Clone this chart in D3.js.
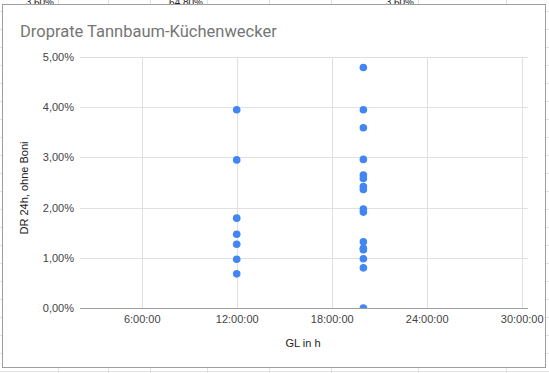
<!doctype html>
<html>
  <head>
    <meta charset="utf-8">
    <script src="https://cdn.jsdelivr.net/npm/d3@7"></script>
    <style>
      body { margin: 0; background: #fff; }
      .grid line { stroke: #e0e0e0; shape-rendering: crispEdges; }
      .grid path { stroke-width: 0; }
      .axis path, .axis line { display: none; }
      .axis text { font-family: "Liberation Sans", Arial, sans-serif; font-size: 11px; fill: #444; }
    </style>
  </head>
  <body>
    <script>
    // data
    var hours12 = [12, 12, 12, 12, 12, 12, 12];
    var drop12 = [3.95, 2.95, 1.79, 1.47, 1.27, 0.97, 0.68];
    var hours20 = [20, 20, 20, 20, 20, 20, 20, 20, 20, 20, 20, 20, 20, 20, 20, 20];
    var drop20 = [4.79, 3.95, 3.59, 2.96, 2.65, 2.58, 2.42, 2.36, 1.97, 1.91, 1.32, 1.19, 1.16, 0.98, 0.80, 0.0];
    var xTicks = [6, 12, 18, 24, 30];
    var xTickLabels = ['6:00:00', '12:00:00', '18:00:00', '24:00:00', '30:00:00'];
    var yTicks = [0, 1, 2, 3, 4, 5];
    var yTickLabels = ['0,00%', '1,00%', '2,00%', '3,00%', '4,00%', '5,00%'];
    var cellTexts = ['3,60%', '64,80%', '3,60%'];

    var width = 549;
    var height = 373;

    var svg = d3.select('body')
              .append('svg')
              .attr('width', width)
              .attr('height', height);

    //Spreadsheet behind the chart (its top row of cells peeks out above)
    var colLines = [58, 108, 150, 207, 269, 331, 418, 506];
    var cellRight = [54, 203, 414];
    var bg = svg.append('g');
    colLines.forEach(function(x) {
      bg.append('line')
        .attr('x1', x + 0.5).attr('x2', x + 0.5)
        .attr('y1', 0).attr('y2', height)
        .attr('stroke', '#e2e2e2');
    });
    for (var ry = 371; ry > 0; ry -= 18) {
      bg.append('line')
        .attr('x1', 0).attr('x2', width)
        .attr('y1', ry + 0.5).attr('y2', ry + 0.5)
        .attr('stroke', '#e2e2e2');
    }
    cellTexts.forEach(function(t, i) {
      bg.append('text')
        .attr('x', cellRight[i])
        .attr('y', 6)
        .attr('text-anchor', 'end')
        .attr('font-family', '"Liberation Sans", Arial, sans-serif')
        .attr('font-size', '10px')
        .attr('fill', '#222')
        .text(t);
    });

    //Chart box
    svg.append('rect')
      .attr('x', 2.5)
      .attr('y', 4.5)
      .attr('width', 543)
      .attr('height', 363)
      .attr('fill', '#fff')
      .attr('stroke', '#9e9e9e');

    var margin = { left: 80, right: 528, top: 57, bottom: 308 };

    var x = d3.scaleLinear()
              .domain([2.1, 30.4])
              .range([margin.left, margin.right]);

    var y = d3.scaleLinear()
              .domain([0, 5])
              .range([margin.bottom, margin.top]);

    //Gridlines
    svg.append('g')
      .attr('class', 'grid')
      .attr('transform', 'translate(' + margin.left + ',0)')
      .call(d3.axisLeft(y).tickValues(yTicks)
        .tickSize(-(margin.right - margin.left)).tickFormat(''));

    svg.append('g')
      .attr('class', 'grid')
      .attr('transform', 'translate(0,' + margin.bottom + ')')
      .call(d3.axisBottom(x).tickValues(xTicks)
        .tickSize(-(margin.bottom - margin.top)).tickFormat(''));

    //Points
    svg.append('clipPath')
      .attr('id', 'plot')
      .append('rect')
      .attr('x', margin.left)
      .attr('y', margin.top - 10)
      .attr('width', margin.right - margin.left)
      .attr('height', margin.bottom - margin.top + 10);

    var points = hours12.map(function(h, i) { return [h, drop12[i]]; })
      .concat(hours20.map(function(h, i) { return [h, drop20[i]]; }));

    svg.append('g')
      .attr('clip-path', 'url(#plot)')
      .selectAll('circle')
      .data(points)
      .enter()
      .append('circle')
      .attr('cx', function(d) { return x(d[0]); })
      .attr('cy', function(d) { return y(d[1]); })
      .attr('r', 3.8)
      .attr('fill', '#4285f4');

    //Zero line
    svg.append('line')
      .attr('x1', margin.left)
      .attr('x2', margin.right)
      .attr('y1', y(0) + 0.5)
      .attr('y2', y(0) + 0.5)
      .attr('stroke', '#9e9e9e');

    //Axes
    svg.append('g')
      .attr('class', 'axis')
      .attr('transform', 'translate(' + margin.left + ',0)')
      .call(d3.axisLeft(y).tickValues(yTicks).tickSize(0).tickPadding(6)
        .tickFormat(function(d, i) { return yTickLabels[i]; }));

    svg.append('g')
      .attr('class', 'axis')
      .attr('transform', 'translate(0,' + margin.bottom + ')')
      .call(d3.axisBottom(x).tickValues(xTicks).tickSize(0).tickPadding(7)
        .tickFormat(function(d, i) { return xTickLabels[i]; }));

    //Titles
    svg.append('text')
      .attr('x', 20)
      .attr('y', 37)
      .attr('font-family', 'Roboto, sans-serif')
      .attr('font-size', '16.5px')
      .attr('fill', '#757575')
      .text('Droprate Tannbaum-Küchenwecker');

    svg.append('text')
      .attr('x', 303)
      .attr('y', 347)
      .attr('text-anchor', 'middle')
      .attr('font-family', '"Liberation Sans", Arial, sans-serif')
      .attr('font-size', '11px')
      .attr('fill', '#222')
      .text('GL in h');

    svg.append('text')
      .attr('transform', 'translate(28,188) rotate(-90)')
      .attr('text-anchor', 'middle')
      .attr('font-family', '"Liberation Sans", Arial, sans-serif')
      .attr('font-size', '11px')
      .attr('fill', '#222')
      .text('DR 24h, ohne Boni');
    </script>
  </body>
</html>
